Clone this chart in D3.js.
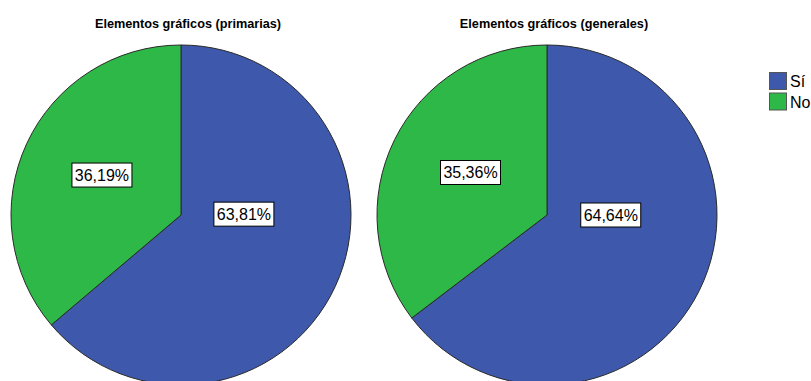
<!DOCTYPE html>
<html>
<head>
<meta charset="utf-8">
<script src="https://cdn.jsdelivr.net/npm/d3@7/dist/d3.min.js"></script>
<style>
  html, body { margin: 0; padding: 0; background: #fff; }
  svg { display: block; font-family: Arial, "Liberation Sans", sans-serif; }
</style>
</head>
<body>
<svg id="chart" width="811" height="381"></svg>
<script>
// Categories and series values (percentages)
const categories = ["Sí", "No"];
const titles = ["Elementos gráficos (primarias)", "Elementos gráficos (generales)"];
const primarias = [63.81, 36.19];
const generales = [64.64, 35.36];
const series = [primarias, generales];

// Layout
const W = 811, H = 381;
const radius = 170;
const centers = [{ x: 181, y: 215 }, { x: 547, y: 215 }];
// label anchor for each slice of each pie, as a fraction of the radius (x, y)
const labelAnchors = [
  [[0.37, -0.005], [-0.465, -0.235]],
  [[0.375, 0.0], [-0.45, -0.25]]
];

const color = d3.scaleOrdinal().domain(categories).range(["#3e58ac", "#2eb848"]);
const fmt = v => v.toFixed(2).replace(".", ",") + "%";

const svg = d3.select("#chart");

const pie = d3.pie().sort(null).value(d => d.value);
const arc = d3.arc().innerRadius(0).outerRadius(radius);

series.forEach((vals, i) => {
  const c = centers[i];
  const g = svg.append("g").attr("transform", `translate(${c.x},${c.y})`);
  const data = categories.map((k, j) => ({ key: k, value: vals[j], idx: j }));
  const arcs = pie(data);

  g.selectAll("path.slice")
    .data(arcs)
    .join("path")
    .attr("class", "slice")
    .attr("d", arc)
    .attr("fill", d => color(d.data.key))
    .attr("stroke", "#2a2a2a")
    .attr("stroke-width", 1)
    .attr("stroke-linejoin", "round");

  // value labels in white boxes
  const lab = g.selectAll("g.lab")
    .data(arcs)
    .join("g")
    .attr("class", "lab")
    .attr("transform", d => {
      const a = labelAnchors[i][d.data.idx];
      return `translate(${a[0] * radius},${a[1] * radius})`;
    });
  lab.each(function (d) {
    const s = d3.select(this);
    const t = s.append("text")
      .attr("text-anchor", "middle")
      .attr("dy", "0.36em")
      .attr("font-size", 16)
      .attr("fill", "#000")
      .text(fmt(d.data.value));
    const bb = t.node().getBBox();
    s.insert("rect", "text")
      .attr("x", -Math.round(bb.width / 2) - 3)
      .attr("y", -12)
      .attr("width", Math.round(bb.width) + 6)
      .attr("height", 24)
      .attr("fill", "#fff")
      .attr("stroke", "#000")
      .attr("stroke-width", 1);
  });

  svg.append("text")
    .attr("x", c.x + 7)
    .attr("y", 28)
    .attr("text-anchor", "middle")
    .attr("font-size", 12.7)
    .attr("font-weight", "bold")
    .attr("fill", "#000")
    .text(titles[i]);
});

// Legend
const legend = svg.append("g").attr("transform", "translate(769,72)");
const item = legend.selectAll("g")
  .data(categories)
  .join("g")
  .attr("transform", (d, i) => `translate(0,${i * 20.5})`);
item.append("rect")
  .attr("x", 0.5).attr("y", 0.5)
  .attr("width", 17).attr("height", 17)
  .attr("fill", d => color(d))
  .attr("stroke", "#555")
  .attr("stroke-width", 1);
item.append("text")
  .attr("x", 21)
  .attr("y", 15)
  .attr("font-size", 16)
  .attr("fill", "#000")
  .text(d => d);
</script>
</body>
</html>
